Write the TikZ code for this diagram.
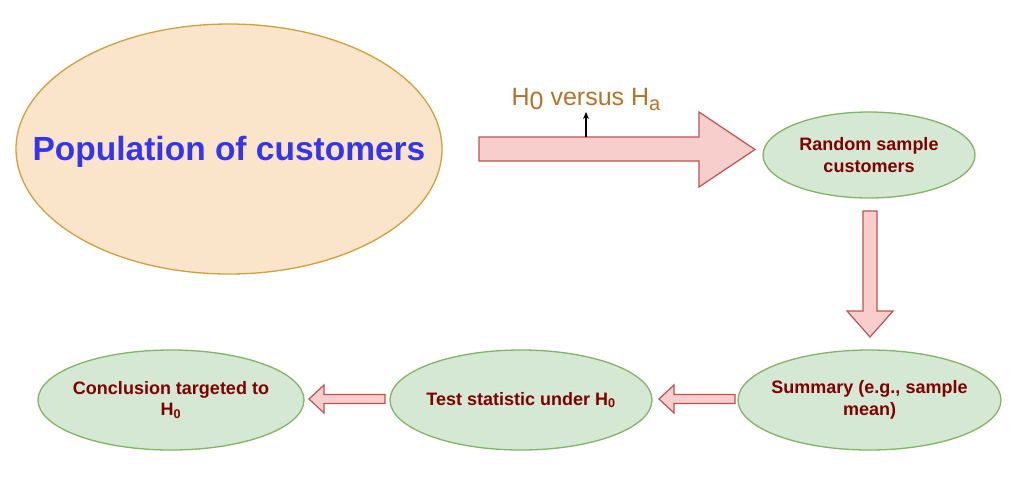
\documentclass[tikz,border=0pt]{standalone}
\usepackage{fontspec}
\setmainfont{Liberation Sans}
\usetikzlibrary{arrows.meta,backgrounds}
\definecolor{popfill}{HTML}{FAE5CB}
\definecolor{popdraw}{HTML}{CFA03F}
\definecolor{popblue}{HTML}{3535F0}
\definecolor{gfill}{HTML}{D5E8D4}
\definecolor{gdraw}{HTML}{82B366}
\definecolor{gtext}{HTML}{800000}
\definecolor{rfill}{HTML}{F8CECC}
\definecolor{rdraw}{HTML}{B85450}
\definecolor{hcol}{HTML}{B5722B}
\begin{document}
\begin{tikzpicture}[x=1pt,y=-1pt,
 poptext/.style={inner sep=0pt, text=popblue, font=\fontsize{33.5}{40}\selectfont\bfseries},
 popshape/.style={draw=popdraw, fill=popfill, line width=1.3pt},
 gtext/.style={inner sep=0pt, text=gtext, align=center, font=\fontsize{18}{21.5}\selectfont\bfseries},
 gshape/.style={draw=gdraw, fill=gfill, line width=1.3pt},
 blockarrow/.style={draw=rdraw, fill=rfill, line width=1.2pt, line join=miter},
 hyplabel/.style={text=hcol, inner sep=0pt, font=\fontsize{25}{30}\selectfont},
]
\useasboundingbox (0,0) rectangle (1035,499);
\coordinate (popc) at (229,149);
\node[poptext] (pop) at (229,152) {Population of customers};
\node[gtext] (rs) at (869,155) {Random sample\\customers};
\node[gtext] (sum) at (869.5,400) {Summary (e.g., sample\\mean)};
\node[gtext] (ts) at (521,400) {Test statistic under H\textsubscript{0}};
\node[gtext] (con) at (171,400) {Conclusion targeted to\\H\textsubscript{0}};
\begin{pgfonlayer}{background}
\draw[popshape] (popc) ellipse [x radius=213pt, y radius=125pt];
\draw[gshape] (rs.center) ellipse [x radius=106pt, y radius=43pt];
\draw[gshape] (sum.center) ellipse [x radius=131.5pt, y radius=50pt];
\draw[gshape] (ts.center) ellipse [x radius=131pt, y radius=50pt];
\draw[gshape] (con.center) ellipse [x radius=133pt, y radius=50pt];
\end{pgfonlayer}
% block arrows
\draw[blockarrow] (479,137) -- (699,137) -- (699,112) -- (755,149.5) -- (699,187) -- (699,161) -- (479,161) -- cycle;
\draw[blockarrow] (863,211) -- (877,211) -- (877,311) -- (893,311) -- (870,337) -- (847,311) -- (863,311) -- cycle;
\draw[blockarrow] (735,394.5) -- (674,394.5) -- (674,385) -- (659,399) -- (674,413) -- (674,403.5) -- (735,403.5) -- cycle;
\draw[blockarrow] (385,394.5) -- (324,394.5) -- (324,385) -- (309,399) -- (324,413) -- (324,403.5) -- (385,403.5) -- cycle;
% label
\node[hyplabel] (hyp) at (586,99) {H\raisebox{-4pt}{0} versus H\raisebox{-5pt}{\fontsize{20}{22}\selectfont a}};
\coordinate (hb) at (586,137);
\coordinate (ht) at (586,112);
\draw[-{Stealth[length=7pt,width=6pt]}, line width=1.1pt] (hb) -- (ht);
\end{tikzpicture}
\end{document}
